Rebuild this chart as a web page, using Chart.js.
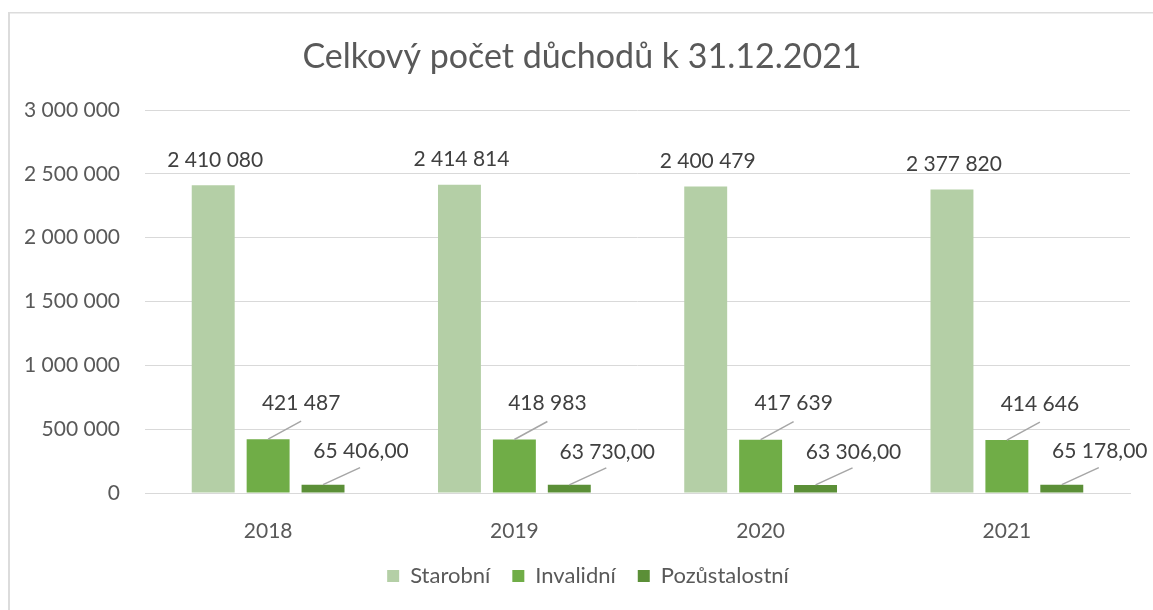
<!DOCTYPE html>
<html><head><meta charset="utf-8">
<script src="https://cdn.jsdelivr.net/npm/chart.js@4.4.1/dist/chart.umd.min.js"></script>
<style>html,body{margin:0;padding:0;background:#fff;} #wrap{width:1153px;height:610px;position:relative;}</style>
</head><body><div id="wrap"><canvas id="c" width="1153" height="610"></canvas></div>
<script>
const years = ['2018', '2019', '2020', '2021'];
const starobni = [2410080, 2414814, 2400479, 2377820];
const invalidni = [421487, 418983, 417639, 414646];
const pozustalostni = [65406, 63730, 63306, 65178];
const yMin = 0, yMax = 3000000, yStep = 500000;
const seriesNames = ['Starobní', 'Invalidní', 'Pozůstalostní'];
const titleText = 'Celkový počet důchodů k 31.12.2021';

const FONT = 'Lato';
function fmtInt(n) { return String(Math.round(n)).replace(/\B(?=(\d{3})+(?!\d))/g, ' '); }
function fmtDec(n) { return fmtInt(n) + ',00'; }

const borderPlugin = {
  id: 'frame',
  beforeDraw(chart) {
    const ctx = chart.ctx;
    ctx.save();
    ctx.fillStyle = '#dcdcdc';
    ctx.fillRect(8, 12, 2, chart.height);
    ctx.fillRect(8, 12, chart.width, 1.5);
    ctx.restore();
  }
};

// nudge title and legend horizontally (Excel centres them slightly right of the canvas centre)
const shiftPlugin = {
  id: 'shiftBlocks',
  afterLayout(chart, args, opts) {
    if (chart.titleBlock) { chart.titleBlock.left += opts.title; chart.titleBlock.right += opts.title; }
    if (chart.legend) { chart.legend.left += opts.legend; chart.legend.right += opts.legend; }
  }
};

const labelPlugin = {
  id: 'valueLabels',
  afterDatasetsDraw(chart, args, opts) {
    const ctx = chart.ctx;
    ctx.save();
    ctx.font = opts.size + 'px ' + FONT;
    ctx.fillStyle = '#404040';
    ctx.textAlign = 'center';
    ctx.textBaseline = 'middle';
    chart.data.datasets.forEach((ds, di) => {
      const meta = chart.getDatasetMeta(di);
      const cfg = opts.series[di];
      meta.data.forEach((bar, i) => {
        const txt = cfg.fmt(ds.data[i]);
        const x0 = bar.x, y0 = bar.y;
        if (cfg.leader) {
          ctx.strokeStyle = '#a6a6a6';
          ctx.lineWidth = 1.5;
          ctx.beginPath();
          ctx.moveTo(x0, y0);
          ctx.lineTo(x0 + cfg.leader[0], y0 + cfg.leader[1]);
          ctx.stroke();
        }
        ctx.fillText(txt, x0 + cfg.dx, y0 + cfg.dy);
      });
    });
    ctx.restore();
  }
};

new Chart(document.getElementById('c'), {
  type: 'bar',
  data: {
    labels: years,
    datasets: [
      { label: seriesNames[0], data: starobni, backgroundColor: '#b4cfa6' },
      { label: seriesNames[1], data: invalidni, backgroundColor: '#70ad47' },
      { label: seriesNames[2], data: pozustalostni, backgroundColor: '#5b8f37' }
    ]
  },
  options: {
    responsive: false,
    animation: false,
    categoryPercentage: 0.669,
    barPercentage: 0.782,
    layout: { padding: { left: 8, right: 23, top: 0, bottom: 13 } },
    plugins: {
      title: {
        display: true, text: titleText, color: '#595959',
        font: { family: FONT, size: 34, weight: 'normal', lineHeight: 1.2 },
        padding: { top: 36.6, bottom: 32.6 }
      },
      legend: {
        position: 'bottom',
        labels: {
          color: '#595959', boxWidth: 12, boxHeight: 12, padding: 22,
          font: { family: FONT, size: 22 }
        }
      },
      tooltip: { enabled: false },
      shiftBlocks: { title: 13, legend: 19 },
      valueLabels: {
        size: 21,
        series: [
          { fmt: fmtInt, dx: 2, dy: -25 },
          { fmt: fmtInt, dx: 33, dy: -36, leader: [33, -18] },
          { fmt: fmtDec, dx: 38, dy: -33, leader: [37, -17] }
        ]
      }
    },
    scales: {
      x: {
        grid: { display: false },
        border: { display: true, color: '#d9d9d9', width: 1 },
        ticks: { color: '#595959', font: { family: FONT, size: 21 }, padding: 18 },
        afterFit(scale) { scale.height = 50; }
      },
      y: {
        min: yMin, max: yMax,
        ticks: { stepSize: yStep, color: '#595959', font: { family: FONT, size: 21 }, padding: 25, callback: v => fmtInt(v) },
        grid: { color: '#d9d9d9', lineWidth: 1, drawTicks: false },
        border: { display: false },
        afterFit(scale) { scale.width = 137; }
      }
    }
  },
  plugins: [borderPlugin, shiftPlugin, labelPlugin]
});
</script></body></html>
